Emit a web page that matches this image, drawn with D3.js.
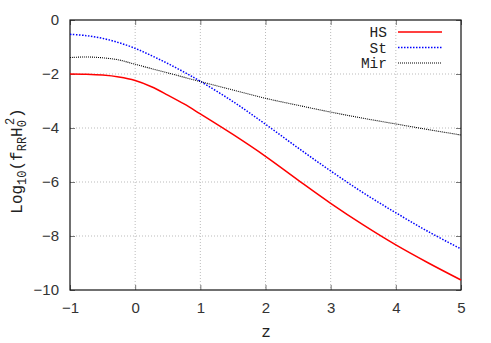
<!DOCTYPE html>
<html><head><meta charset="utf-8">
<script src="https://cdn.jsdelivr.net/npm/d3@7"></script>
<style>body{margin:0;background:#fff}</style>
</head><body>
<svg id="c" width="491" height="343"></svg>
<script>
const zHS  = [-1, -0.75, -0.5, -0.25, 0, 0.25, 0.5, 0.75, 1, 1.5, 2, 2.5, 3, 3.5, 4, 4.5, 5];
const vHS  = [-2.0, -2.01, -2.04, -2.11, -2.24, -2.47, -2.78, -3.11, -3.48, -4.24, -5.05, -5.93, -6.79, -7.59, -8.33, -9.0, -9.63];
const zSt  = [-1, -0.75, -0.5, -0.25, 0, 0.25, 0.5, 0.75, 1, 1.5, 2, 2.5, 3, 3.5, 4, 4.5, 5];
const vSt  = [-0.53, -0.58, -0.68, -0.84, -1.05, -1.32, -1.61, -1.93, -2.27, -3.02, -3.86, -4.74, -5.59, -6.4, -7.14, -7.84, -8.48];
const zMir = [-1, -0.75, -0.5, -0.25, 0, 0.5, 1, 1.5, 2, 2.5, 3, 3.5, 4, 4.5, 5];
const vMir = [-1.39, -1.37, -1.40, -1.48, -1.64, -1.96, -2.28, -2.59, -2.9, -3.16, -3.41, -3.64, -3.85, -4.06, -4.26];
const xTicks = [-1, 0, 1, 2, 3, 4, 5];
const yTicks = [0, -2, -4, -6, -8, -10];
const seriesNames = ["HS", "St", "Mir"];

const svg = d3.select("#c");
const L = 70, R = 461, T = 20, B = 290;
const x = d3.scaleLinear().domain([-1, 5]).range([L, R]);
const y = d3.scaleLinear().domain([-10, 0]).range([B, T]);

// grid
const g = svg.append("g");
g.selectAll(".gx").data(xTicks.slice(1, -1)).enter().append("line")
  .attr("x1", d => x(d)).attr("x2", d => x(d)).attr("y1", T).attr("y2", B)
  .attr("stroke", "#aaa").attr("stroke-width", 0.8).attr("stroke-dasharray", "1,2");
g.selectAll(".gy").data(yTicks.slice(1, -1)).enter().append("line")
  .attr("y1", d => y(d)).attr("y2", d => y(d)).attr("x1", L).attr("x2", R)
  .attr("stroke", "#aaa").attr("stroke-width", 0.8).attr("stroke-dasharray", "1,2");

// axes with inward ticks
const tickFont = "Liberation Sans, Arial, sans-serif";
const fmt = d => d < 0 ? "\u2212" + Math.abs(d) : d;
const ax = svg.append("g").attr("transform", `translate(0,${B})`)
  .call(d3.axisBottom(x).tickValues(xTicks).tickSizeInner(-5).tickSizeOuter(0).tickPadding(12).tickFormat(fmt));
const ay = svg.append("g").attr("transform", `translate(${L},0)`)
  .call(d3.axisLeft(y).tickValues(yTicks).tickSizeInner(-5).tickSizeOuter(0).tickPadding(11).tickFormat(fmt));
const at = svg.append("g").attr("transform", `translate(0,${T})`)
  .call(d3.axisTop(x).tickValues(xTicks).tickSizeInner(-5).tickSizeOuter(0).tickFormat(""));
const ar = svg.append("g").attr("transform", `translate(${R},0)`)
  .call(d3.axisRight(y).tickValues(yTicks).tickSizeInner(-5).tickSizeOuter(0).tickFormat(""));
[ax, ay, at, ar].forEach(a => {
  a.select(".domain").remove();
  a.selectAll("line").attr("stroke", "#777").attr("stroke-width", 1);
  a.selectAll("text").attr("font-family", tickFont).attr("font-size", 15).attr("fill", "#333");
});
svg.append("rect").attr("x", L).attr("y", T).attr("width", R - L).attr("height", B - T)
  .attr("fill", "none").attr("stroke", "#111").attr("stroke-width", 1.2);

// lines
const line = d3.line().x(d => x(d[0])).y(d => y(d[1])).curve(d3.curveCatmullRom.alpha(0.5));
const series = [
  {name: seriesNames[0], z: zHS, v: vHS, color: "#ff0000", dash: null, w: 1.5},
  {name: seriesNames[1], z: zSt, v: vSt, color: "#0000ff", dash: "1.5,1.5", w: 1.5},
  {name: seriesNames[2], z: zMir, v: vMir, color: "#000000", dash: "1,1", w: 1.1}
];
series.forEach(s => {
  svg.append("path").datum(d3.zip(s.z, s.v)).attr("d", line)
    .attr("fill", "none").attr("stroke", s.color).attr("stroke-width", s.w)
    .attr("stroke-dasharray", s.dash);
});

// legend
const mono = "Liberation Mono, Courier New, monospace";
series.forEach((s, i) => {
  const yy = 32 + i * 15.5;
  svg.append("text").attr("x", 387).attr("y", yy + 5).attr("text-anchor", "end")
    .attr("font-family", mono).attr("font-size", 14.5).attr("fill", "#222").text(s.name);
  svg.append("line").attr("x1", 398).attr("x2", 442).attr("y1", yy).attr("y2", yy)
    .attr("stroke", s.color).attr("stroke-width", s.w).attr("stroke-dasharray", s.dash);
});

// axis labels
svg.append("text").attr("x", 266).attr("y", 337).attr("text-anchor", "middle")
  .attr("font-family", mono).attr("font-size", 16).attr("fill", "#222").text("z");
const yl = svg.append("text").attr("transform", "translate(22,161) rotate(-90)")
  .attr("text-anchor", "middle").attr("font-family", mono).attr("font-size", 16).attr("fill", "#222");
yl.append("tspan").text("Log");
yl.append("tspan").attr("font-size", 12).attr("dy", 4).text("10");
yl.append("tspan").attr("dy", -4).text("(f");
yl.append("tspan").attr("font-size", 12).attr("dy", 4).text("RR");
yl.append("tspan").attr("dy", -4).text("H");
yl.append("tspan").attr("font-size", 12).attr("dy", 4).text("0");
yl.append("tspan").attr("font-size", 12).attr("dx", -5).attr("dy", -12).text("2");
yl.append("tspan").attr("dy", 8).text(")");
</script>
</body></html>
